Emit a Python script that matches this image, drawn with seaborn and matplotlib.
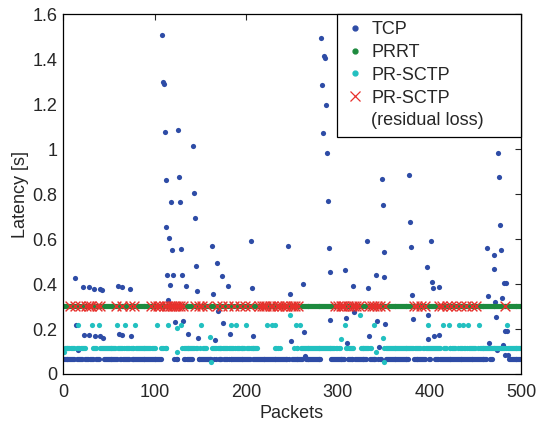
import numpy as np
import pandas as pd
import matplotlib
matplotlib.use("Agg")
import matplotlib.pyplot as plt
from matplotlib.lines import Line2D
from matplotlib.ticker import FuncFormatter
import seaborn as sns

# packet numbers 1..500
n_packets = 500

# TCP: floor latency, runs of packets sitting on it, and retransmission spikes
tcp_floor = 0.067
tcp_floor_runs = [(1, 39), (45, 107), (120, 126), (132, 141), (148, 281),
                  (293, 377), (383, 395), (400, 468), (487, 500)]
tcp_spike_pkt = [13, 14, 16, 22, 23, 28, 29, 34, 35, 40, 41, 43, 44, 60, 61, 64, 65, 73, 74,
                 108, 109, 110, 111, 112, 113, 114, 115, 116, 117, 118, 119, 120, 122,
                 126, 127, 128, 129, 130, 131, 134, 136, 142, 143, 144, 145, 146, 147,
                 163, 164, 166, 168, 169, 174, 175, 180, 182, 205, 206, 207,
                 246, 248, 249, 262, 263, 264,
                 282, 283, 284, 285, 286, 287, 288, 289, 290, 291, 292,
                 308, 309, 310, 317, 318, 332, 333, 334, 342, 343, 345,
                 348, 349, 350, 351, 352,
                 378, 379, 380, 381, 382, 397, 398, 399, 402, 403, 404, 405, 410, 411,
                 463, 464, 465, 470, 471, 472, 473, 474, 475, 476, 477, 478, 479, 480,
                 481, 482, 483, 484, 485, 486]
tcp_spike_lat = [0.425, 0.22, 0.108, 0.385, 0.172, 0.385, 0.172, 0.38, 0.167, 0.38, 0.167, 0.375, 0.162,
                 0.39, 0.18, 0.385, 0.175, 0.38, 0.167,
                 1.508, 1.299, 1.287, 1.077, 0.864, 0.653, 0.441, 0.327, 0.606, 0.394, 0.763, 0.55, 0.441, 0.231,
                 1.086, 0.874, 0.766, 0.556, 0.441, 0.237, 0.39, 0.178, 1.015, 0.803, 0.692, 0.478, 0.37, 0.159,
                 0.568, 0.357, 0.15, 0.493, 0.281, 0.437, 0.227, 0.391, 0.178, 0.592, 0.381, 0.169,
                 0.569, 0.357, 0.147, 0.399, 0.188, 0.079,
                 1.495, 1.283, 1.073, 1.415, 1.406, 1.194, 0.982, 0.77, 0.56, 0.452, 0.24,
                 0.461, 0.249, 0.136, 0.391, 0.277, 0.592, 0.381, 0.168, 0.441, 0.234, 0.121,
                 0.865, 0.752, 0.541, 0.433, 0.221,
                 0.884, 0.677, 0.564, 0.352, 0.244, 0.474, 0.264, 0.154, 0.591, 0.409, 0.381, 0.167, 0.385, 0.173,
                 0.56, 0.348, 0.136, 0.465, 0.53, 0.319, 0.253, 0.105, 0.982, 0.874, 0.662, 0.55, 0.338, 0.127,
                 0.403, 0.191, 0.084, 0.403, 0.191, 0.084]

# PRRT: constant ~300 ms for every packet
prrt_lat = 0.302

# PR-SCTP: floor runs, off-floor packets, and lost packets (residual loss)
sctp_floor = 0.115
sctp_floor_runs = [(1, 12), (15, 24), (32, 36), (39, 57), (59, 64), (67, 77), (80, 100),
                   (107, 113), (128, 146), (150, 157), (162, 186), (188, 212), (231, 237),
                   (251, 256), (259, 302), (308, 317), (324, 337), (350, 390), (393, 412),
                   (416, 418), (422, 428), (431, 450), (453, 481), (484, 500)]
sctp_off_pkt = [1, 17, 32, 39, 59, 68, 79, 103, 115, 124, 125, 129, 151, 160, 162, 184, 189,
                200, 223, 228, 232, 248, 254, 259, 304, 308, 324, 340, 342, 349, 350, 398,
                415, 421, 432, 437, 442, 454, 485]
sctp_off_lat = [0.1, 0.217, 0.217, 0.217, 0.217, 0.217, 0.217, 0.217, 0.217, 0.205, 0.099, 0.217,
                0.217, 0.164, 0.052, 0.217, 0.217, 0.217, 0.217, 0.217, 0.217, 0.264, 0.217, 0.217,
                0.155, 0.217, 0.264, 0.217, 0.1, 0.159, 0.052, 0.217, 0.217, 0.217, 0.217, 0.217,
                0.217, 0.217, 0.217]
sctp_lost_pkt = [8, 13, 19, 25, 28, 31, 37, 40,
                 58, 65, 73, 78,
                 96, 101, 104, 106, 110, 114, 117, 119, 121, 123, 126, 128, 131,
                 144, 148, 152, 157,
                 168, 174, 180, 187, 193, 199, 204,
                 214, 217, 220, 222, 226, 229, 234, 236, 239, 242, 245, 249, 251, 253, 257,
                 297, 300, 303, 305, 307, 311, 315, 318, 320, 323,
                 334, 337, 339, 343, 346, 352,
                 383, 387, 391, 395,
                 410, 414, 419, 424, 429, 434, 440, 446, 451,
                 482]
lost_marker_lat = 0.302

colors = {"TCP": "#2e4ca6", "PRRT": "#1d8a3e", "PR-SCTP": "#22c0c0", "loss": "#e8302c"}


def floor_packets(runs, exclude):
    pk = [p for a, b in runs for p in range(a, b + 1)]
    ex = set(exclude)
    return [p for p in pk if p not in ex]


tcp_fl = floor_packets(tcp_floor_runs, tcp_spike_pkt)
tcp = pd.DataFrame({"packet": tcp_fl + tcp_spike_pkt,
                    "latency": [tcp_floor] * len(tcp_fl) + tcp_spike_lat})
prrt = pd.DataFrame({"packet": list(range(1, n_packets + 1)),
                     "latency": [prrt_lat] * n_packets})
sctp_fl = floor_packets(sctp_floor_runs, sctp_off_pkt + sctp_lost_pkt)
sctp = pd.DataFrame({"packet": sctp_fl + sctp_off_pkt,
                     "latency": [sctp_floor] * len(sctp_fl) + sctp_off_lat})
lost = pd.DataFrame({"packet": sctp_lost_pkt,
                     "latency": [lost_marker_lat] * len(sctp_lost_pkt)})

sns.set_style("white")
plt.rcParams["font.family"] = ["Liberation Sans", "DejaVu Sans"]
plt.rcParams["font.size"] = 13

fig = plt.figure(figsize=(5.47, 4.25), dpi=100)
ax = fig.add_axes([0.115, 0.12, 0.8375, 0.847])

dot = 14
sns.scatterplot(data=tcp, x="packet", y="latency", color=colors["TCP"], s=dot,
                linewidth=0, ax=ax, legend=False)
sns.scatterplot(data=prrt, x="packet", y="latency", color=colors["PRRT"], s=dot,
                linewidth=0, ax=ax, legend=False)
sns.scatterplot(data=sctp, x="packet", y="latency", color=colors["PR-SCTP"], s=dot,
                linewidth=0, ax=ax, legend=False)
sns.scatterplot(data=lost, x="packet", y="latency", color=colors["loss"], marker="x",
                s=50, linewidth=1.0, ax=ax, legend=False)

ax.set_xlim(0, 500)
ax.set_ylim(0, 1.6)
ax.set_xticks([0, 100, 200, 300, 400, 500])
ax.set_yticks(np.arange(0, 1.61, 0.2))
ax.yaxis.set_major_formatter(FuncFormatter(lambda v, _: f"{v:g}"))
ax.tick_params(direction="in", top=True, right=True, length=4, width=0.8,
               labelsize=13, pad=4)
ax.tick_params(axis="x", pad=7)
for sp in ax.spines.values():
    sp.set_color("black")
    sp.set_linewidth(0.9)
ax.set_xlabel("Packets", fontsize=13, labelpad=3)
ax.set_ylabel("Latency [s]", fontsize=13, labelpad=2)

handles = [
    Line2D([], [], ls="", marker="o", markersize=3.5, color=colors["TCP"]),
    Line2D([], [], ls="", marker="o", markersize=3.5, color=colors["PRRT"]),
    Line2D([], [], ls="", marker="o", markersize=3.5, color=colors["PR-SCTP"]),
    Line2D([], [], ls="", marker="x", markersize=7.5, mew=0.9, color=colors["loss"]),
    Line2D([], [], ls="", marker=""),
]
labels = ["TCP", "PRRT", "PR-SCTP", "PR-SCTP", "(residual loss)"]
leg = ax.legend(handles, labels, loc="upper left", bbox_to_anchor=(0.598, 0, 0.402, 1),
                mode="expand", borderaxespad=0, fancybox=False,
                framealpha=1, edgecolor="black", fontsize=13, labelspacing=0.32,
                handlelength=1.25, handletextpad=0.25, borderpad=0.4)
leg.get_frame().set_linewidth(0.9)

fig.savefig("out.png", dpi=100)
